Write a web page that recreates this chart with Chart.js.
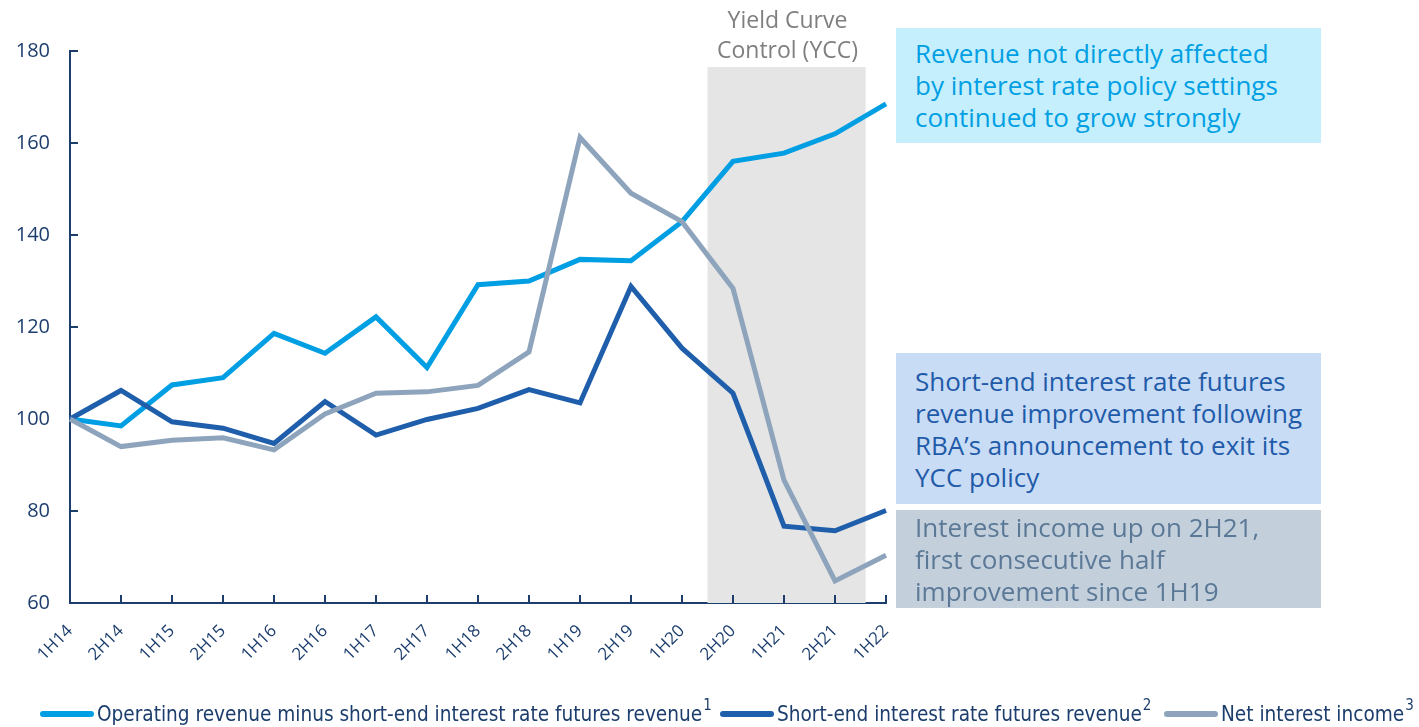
<!DOCTYPE html>
<html>
<head>
<meta charset="utf-8">
<title>Revenue indices</title>
<script src="https://cdn.jsdelivr.net/npm/chart.js@4.4.1/dist/chart.umd.min.js"></script>
<style>
  body { margin: 0; background: #fff; }
  #wrap { position: relative; width: 1419px; height: 727px; overflow: hidden; }
  #chart { position: absolute; left: 0; top: 0; }
  .note {
    position: absolute; left: 896px; width: 406px; padding-left: 19px;
    font-family: 'Open Sans', sans-serif; font-size: 26px; line-height: 32px;
    box-sizing: content-box;
  }
  #note1 { top: 28px; background: #c5effd; color: #009fe3; padding-top: 9px; height: 106px; }
  #note2 { top: 353px; background: #c9dcf5; color: #1f5ba9; padding-top: 12px; height: 139px; }
  #note3 { top: 510px; background: #c3d0dc; color: #5b7997; padding-top: 1px; height: 97px; }
  #ycc {
    position: absolute; left: 700px; width: 175px; top: 4px; text-align: center;
    font-family: 'Open Sans', sans-serif; font-size: 23px; line-height: 30px; color: #7f7f7f;
  }
  .lg { position: absolute; top: 700px; height: 27px; display: flex; align-items: center;
    font-family: 'Liberation Sans Narrow', 'DejaVu Sans Condensed', sans-serif; font-size: 20.6px; color: #1d3e6d; }
  .lg .sw { display: inline-block; width: 54px; height: 6px; border-radius: 3px; margin-right: 3px; }
  .lg sup { font-size: 15px; position: relative; top: -9px; margin-left: 1px; }
</style>
</head>
<body>
<div id="wrap">
  <canvas id="chart" width="1419" height="727"></canvas>
  <div id="ycc">Yield Curve<br>Control (YCC)</div>
  <div class="note" id="note1">Revenue not directly affected<br>by interest rate policy settings<br>continued to grow strongly</div>
  <div class="note" id="note2">Short-end interest rate futures<br>revenue improvement following<br>RBA’s announcement to exit its<br>YCC policy</div>
  <div class="note" id="note3">Interest income up on 2H21,<br>first consecutive half<br>improvement since 1H19</div>
  <div class="lg" style="left:40px"><span class="sw" style="background:#009fe3"></span>Operating revenue minus short-end interest rate futures revenue<sup>1</sup></div>
  <div class="lg" style="left:720px"><span class="sw" style="background:#1f5eab"></span>Short-end interest rate futures revenue<sup>2</sup></div>
  <div class="lg" style="left:1164px"><span class="sw" style="background:#8da4bc"></span>Net interest income<sup>3</sup></div>
</div>
<script>
// -------- Data (index, 1H14 = 100) --------
const halves = ['1H14', '2H14', '1H15', '2H15', '1H16', '2H16', '1H17', '2H17', '1H18',
                '2H18', '1H19', '2H19', '1H20', '2H20', '1H21', '2H21', '1H22'];
const operatingRevenue = [100, 98.5, 107.4, 109.0, 118.6, 114.3, 122.2, 111.2, 129.2,
                          130.0, 134.7, 134.4, 142.9, 156.0, 157.8, 162.0, 168.5];
const shortEndFutures = [100, 106.2, 99.4, 98.0, 94.7, 103.8, 96.5, 99.9, 102.3,
                         106.4, 103.5, 128.8, 115.4, 105.6, 76.7, 75.7, 80.1];
const netInterestIncome = [100, 94.0, 95.4, 95.9, 93.3, 101.1, 105.6, 105.9, 107.3,
                           114.6, 161.2, 149.1, 142.9, 128.4, 86.7, 64.8, 70.4];
const yTicks = [60, 80, 100, 120, 140, 160, 180];

// YCC period shading, in axis units
const yccStart = 12.5, yccEnd = 15.6, yccTop = 176.5;

const axisColor = '#1d3e6d';

// -------- Shading + inward tick marks --------
const decorPlugin = {
    id: 'decor',
    beforeDatasetsDraw(chart) {
        const { ctx, chartArea, scales: { x, y } } = chart;
        ctx.save();
        ctx.fillStyle = '#e5e5e5';
        const l = x.getPixelForValue(yccStart), r = x.getPixelForValue(yccEnd);
        const t = y.getPixelForValue(yccTop);
        ctx.fillRect(l, t, r - l, chartArea.bottom - t);

        ctx.strokeStyle = axisColor;
        ctx.lineWidth = 2;
        ctx.beginPath();
        yTicks.forEach(v => {
            const py = Math.round(y.getPixelForValue(v));
            ctx.moveTo(chartArea.left, py);
            ctx.lineTo(chartArea.left + 8, py);
        });
        halves.forEach((h, i) => {
            const px = Math.round(x.getPixelForValue(i));
            ctx.moveTo(px, chartArea.bottom);
            ctx.lineTo(px, chartArea.bottom - 8);
        });
        ctx.stroke();
        ctx.restore();
    }
};

const makeSeries = (label, data, color, order) => ({
    label, data, order,
    borderColor: color,
    backgroundColor: color,
    borderWidth: 5,
    borderJoinStyle: 'miter',
    pointRadius: 0,
    tension: 0,
    clip: false
});

new Chart(document.getElementById('chart'), {
    type: 'line',
    data: {
        labels: halves,
        datasets: [
            makeSeries('Operating revenue minus short-end interest rate futures revenue', operatingRevenue, '#009fe3', 3),
            makeSeries('Short-end interest rate futures revenue', shortEndFutures, '#1f5eab', 2),
            makeSeries('Net interest income', netInterestIncome, '#8da4bc', 1)
        ]
    },
    options: {
        responsive: false,
        animation: false,
        layout: { padding: { top: 51, right: 533, left: 0, bottom: 0 } },
        plugins: { legend: { display: false }, tooltip: { enabled: false } },
        scales: {
            x: {
                offset: false,
                grid: { display: false, drawTicks: false },
                border: { display: true, color: axisColor, width: 2 },
                ticks: {
                    color: axisColor,
                    font: { family: 'Open Sans', size: 17 },
                    minRotation: 45, maxRotation: 45,
                    autoSkip: false,
                    padding: 18
                },
                afterFit: s => { s.height = 124; }
            },
            y: {
                min: 60, max: 180,
                grid: { display: false, drawTicks: false },
                border: { display: true, color: axisColor, width: 2 },
                afterBuildTicks: s => { s.ticks = yTicks.map(v => ({ value: v })); },
                ticks: {
                    color: axisColor,
                    font: { family: 'Open Sans', size: 20 },
                    padding: 20
                },
                afterFit: s => { s.width = 70; }
            }
        }
    },
    plugins: [decorPlugin]
});
</script>
</body>
</html>
